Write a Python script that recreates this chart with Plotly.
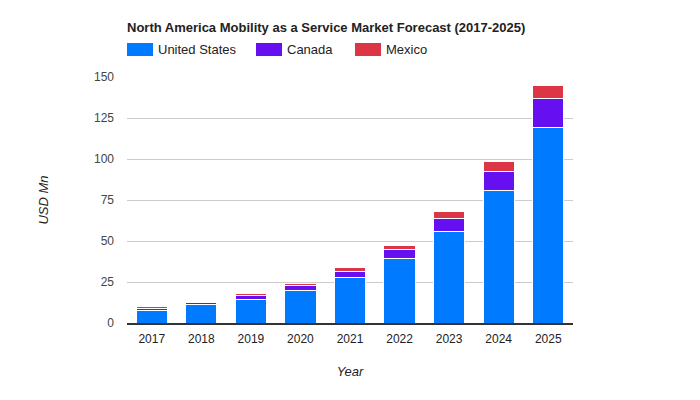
import plotly.graph_objects as go

years = ["2017", "2018", "2019", "2020", "2021", "2022", "2023", "2024", "2025"]
united_states = [7.6, 11.2, 14.5, 20.0, 28.0, 39.5, 56.0, 81.0, 119.5]
canada = [1.2, 1.0, 2.0, 2.7, 3.4, 5.5, 7.7, 11.6, 17.5]
mexico = [1.0, 0.8, 1.2, 1.3, 2.4, 2.2, 4.1, 5.9, 8.0]
y_ticks = [0, 25, 50, 75, 100, 125, 150]
series = [("United States", united_states, "#007bff"),
          ("Canada", canada, "#6610f2"),
          ("Mexico", mexico, "#dc3545")]

W, H = 700, 400
L, R, T, B = 127, 127, 77, 77
font = "Liberation Sans, Arial, sans-serif"
fig = go.Figure()
for name, vals, col in series:
    fig.add_trace(go.Bar(x=years, y=vals, name=name, marker_color=col,
                         marker_line_color="white", marker_line_width=1,
                         showlegend=False))

# custom legend (wide rectangles like the reference)
pw, ph = W - L - R, H - T - B
def px_x(x):
    return (x - L) / pw
def px_y(y):
    return (H - B - y) / ph
legend_x = [127, 256, 355]
for (name, vals, col), lx in zip(series, legend_x):
    fig.add_shape(type="rect", xref="paper", yref="paper",
                  x0=px_x(lx), x1=px_x(lx + 26), y0=px_y(56), y1=px_y(43),
                  fillcolor=col, line_width=0)
    fig.add_annotation(xref="paper", yref="paper", x=px_x(lx + 29), y=px_y(49.5),
                       text=name, showarrow=False, xanchor="left", yanchor="middle",
                       font=dict(size=13, color="#222", family=font))

fig.update_layout(
    barmode="stack", bargap=0.37,
    width=W, height=H,
    margin=dict(l=L, r=R, t=T, b=B, autoexpand=False),
    paper_bgcolor="white", plot_bgcolor="white",
    font=dict(family=font, size=12, color="#444"),
    title=dict(text="<b>North America Mobility as a Service Market Forecast (2017-2025)</b>",
               x=127/W, xanchor="left", y=1-27/H, yanchor="middle",
               font=dict(size=13, color="#222", family=font)),
    xaxis=dict(title=dict(text="<i>Year</i>", font=dict(size=13, color="#222"), standoff=22),
               showline=True, linecolor="#333", linewidth=1.5, ticks="",
               ticklabelstandoff=4,
               tickfont=dict(size=12, color="#222")),
    yaxis=dict(title=dict(text="<i>USD Mn</i>", font=dict(size=13, color="#222"), standoff=42),
               range=[0, 150], tickvals=y_ticks, showgrid=True, gridcolor="#ccc",
               zeroline=False, ticks="", ticklabelstandoff=12,
               tickfont=dict(size=12, color="#444")),
)
fig.write_html("out.html")
